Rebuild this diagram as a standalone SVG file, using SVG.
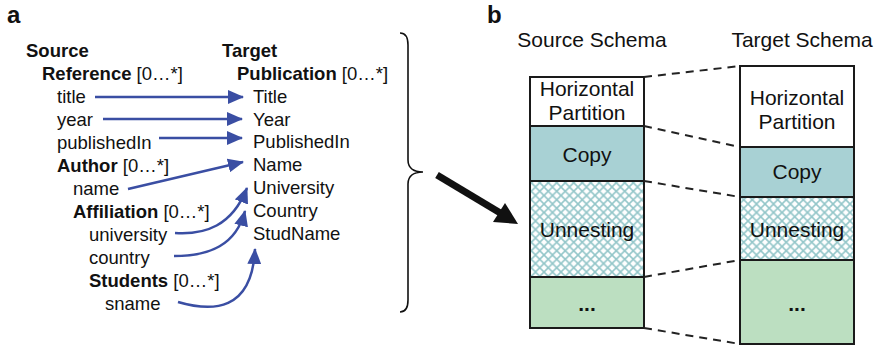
<svg xmlns="http://www.w3.org/2000/svg" width="883" height="347" viewBox="0 0 883 347">
<style>
  .t { font-family: "Liberation Sans", Arial, sans-serif; font-size: 18.5px; fill: #111; }
  .b { font-weight: bold; }
  .r { font-family: "Liberation Sans", Arial, sans-serif; font-size: 21px; fill: #111; text-anchor: middle; }
  .lbl { font-family: "Liberation Sans", Arial, sans-serif; font-size: 24px; font-weight: bold; fill: #111; }
  .blue { fill: none; stroke: #3a4ea3; stroke-width: 2.5; marker-end: url(#ah); }
  .dash { fill: none; stroke: #222; stroke-width: 2; stroke-dasharray: 8 6; }
  .box { stroke: #1a1a1a; stroke-width: 2; }
</style>
<defs>
  <marker id="ah" viewBox="0 0 16 14" refX="15" refY="7" markerWidth="16" markerHeight="14" markerUnits="userSpaceOnUse" orient="auto">
    <path d="M0,0 L16,7 L0,14 Z" fill="#3a4ea3"/>
  </marker>
  <pattern id="hatch" width="8.5" height="8.5" patternUnits="userSpaceOnUse">
    <rect width="8.5" height="8.5" fill="#fff"/>
    <path d="M0,0 L8.5,8.5 M8.5,0 L0,8.5" stroke="#93c6c9" stroke-width="1.6"/>
  </pattern>
</defs>
<rect width="883" height="347" fill="#fff"/>

<text class="lbl" x="7" y="23">a</text>
<text class="lbl" x="487" y="23">b</text>

<g id="source-tree">
  <text class="t b" x="26" y="57">Source</text>
  <text class="t" x="42" y="80"><tspan class="b">Reference</tspan> [0…*]</text>
  <text class="t" x="57" y="103">title</text>
  <text class="t" x="57" y="126">year</text>
  <text class="t" x="57" y="149">publishedIn</text>
  <text class="t" x="57" y="172"><tspan class="b">Author</tspan> [0…*]</text>
  <text class="t" x="73" y="195">name</text>
  <text class="t" x="73" y="218"><tspan class="b">Affiliation</tspan> [0…*]</text>
  <text class="t" x="89" y="241">university</text>
  <text class="t" x="89" y="264">country</text>
  <text class="t" x="89" y="287"><tspan class="b">Students</tspan> [0…*]</text>
  <text class="t" x="105" y="310">sname</text>
</g>

<g id="target-tree">
  <text class="t b" x="222" y="57">Target</text>
  <text class="t" x="237" y="80"><tspan class="b">Publication</tspan> [0…*]</text>
  <text class="t" x="253" y="103">Title</text>
  <text class="t" x="253" y="126">Year</text>
  <text class="t" x="253" y="148">PublishedIn</text>
  <text class="t" x="253" y="171">Name</text>
  <text class="t" x="253" y="194">University</text>
  <text class="t" x="253" y="217">Country</text>
  <text class="t" x="253" y="240">StudName</text>
</g>

<g id="brace">
  <path d="M400,33 C406,33 408,38 408,45 L408,160 C408,168 414,172 423,172 C414,172 408,176 408,184 L408,300 C408,307 406,312 400,312" fill="none" stroke="#111" stroke-width="1.6"/>
</g>

<text class="r" x="592" y="47">Source Schema</text>
<text class="r" x="802" y="47">Target Schema</text>

<g id="source-schema">
  <g id="s-hp">
    <rect class="box" x="530" y="77" width="114" height="49" fill="#fff"/>
    <text class="r" x="587" y="96">Horizontal</text>
    <text class="r" x="587" y="120">Partition</text>
  </g>
  <g id="s-copy">
    <rect class="box" x="530" y="126" width="114" height="55" fill="#a8d1d4"/>
    <text class="r" x="587" y="162">Copy</text>
  </g>
  <g id="s-unnest">
    <rect class="box" x="530" y="181" width="114" height="96" fill="url(#hatch)"/>
    <text class="r" x="587" y="237">Unnesting</text>
  </g>
  <g id="s-more">
    <rect class="box" x="530" y="277" width="114" height="51" fill="#bcdfc1"/>
    <text class="r b" x="587" y="311">...</text>
  </g>
</g>

<g id="target-schema">
  <g id="t-hp">
    <rect class="box" x="740" y="66" width="114" height="81" fill="#fff"/>
    <text class="r" x="797" y="105">Horizontal</text>
    <text class="r" x="797" y="129">Partition</text>
  </g>
  <g id="t-copy">
    <rect class="box" x="740" y="147" width="114" height="50" fill="#a8d1d4"/>
    <text class="r" x="797" y="179">Copy</text>
  </g>
  <g id="t-unnest">
    <rect class="box" x="740" y="197" width="114" height="63" fill="url(#hatch)"/>
    <text class="r" x="797" y="237">Unnesting</text>
  </g>
  <g id="t-more">
    <rect class="box" x="740" y="260" width="114" height="84" fill="#bcdfc1"/>
    <text class="r b" x="797" y="311">...</text>
  </g>
</g>

<g id="connectors">
  <path class="blue" d="M95,97 L243,97"/>
  <path class="blue" d="M103,119 L242,119"/>
  <path class="blue" d="M159,138 L242,138"/>
  <path class="blue" d="M128,189 L243,162"/>
  <path class="blue" d="M175,233 C205,235 232,226 247,188"/>
  <path class="blue" d="M174,256 C210,256 236,245 245,211"/>
  <path class="blue" d="M178,302 C212,312 252,312 255,249"/>

  <path class="dash" d="M644,77 L740,66"/>
  <path class="dash" d="M644,126 L740,147"/>
  <path class="dash" d="M644,181 L740,197"/>
  <path class="dash" d="M644,277 L740,260"/>
  <path class="dash" d="M644,328 L740,344"/>

  <g id="big-arrow">
    <line x1="437" y1="175" x2="502" y2="214" stroke="#111" stroke-width="7"/>
    <polygon points="518,224 505,203 493,222" fill="#111"/>
  </g>
</g>
</svg>
